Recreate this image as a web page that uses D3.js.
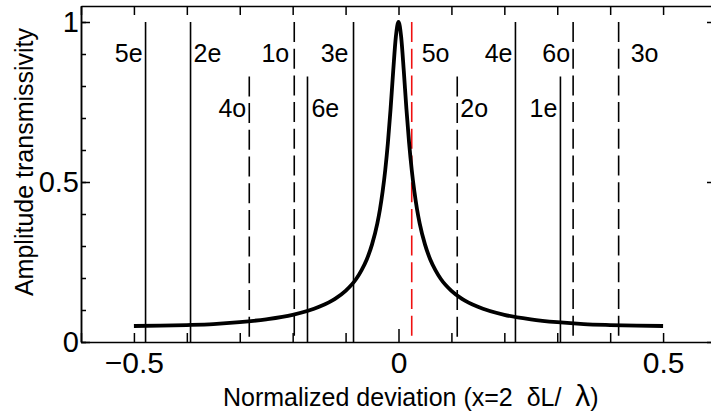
<!DOCTYPE html>
<html>
<head>
  <meta charset="utf-8">
  <script src="https://d3js.org/d3.v7.min.js"></script>
  <style>
    body { margin: 0; background: #fff; }
    text { font-family: "Liberation Sans", Arial, Helvetica, sans-serif; fill: #000; }
  </style>
</head>
<body>
<script type="text/javascript">

/*************************************************************************************************/
/* Data */

var curveX = [-0.5, -0.45, -0.4, -0.35, -0.3, -0.25, -0.2, -0.15, -0.12, -0.1, -0.08, -0.07, -0.06, -0.05, -0.04, -0.035, -0.03, -0.025, -0.02, -0.015, -0.01, -0.005,
              0,
              0.005, 0.01, 0.015, 0.02, 0.025, 0.03, 0.035, 0.04, 0.05, 0.06, 0.07, 0.08, 0.1, 0.12, 0.15, 0.2, 0.25, 0.3, 0.35, 0.4, 0.45, 0.5];
var curveT = [0.050, 0.051, 0.053, 0.056, 0.062, 0.071, 0.085, 0.110, 0.135, 0.160, 0.197, 0.224, 0.258, 0.305, 0.371, 0.415, 0.470, 0.538, 0.623, 0.728, 0.847, 0.954,
              1.000,
              0.954, 0.847, 0.728, 0.623, 0.538, 0.470, 0.415, 0.371, 0.305, 0.258, 0.224, 0.197, 0.160, 0.135, 0.110, 0.085, 0.071, 0.062, 0.056, 0.053, 0.051, 0.050];

var modeNames = ["5e", "2e", "4o", "1o", "6e", "3e", "5o", "2o", "4e", "1e", "6o", "3o"];
var modeX     = [-0.478, -0.393, -0.282, -0.197, -0.172, -0.085, 0.025, 0.111, 0.221, 0.306, 0.330, 0.416];
var modeTop   = [1, 1, 0.83, 1, 0.83, 1, 1, 0.83, 1, 0.83, 1, 1];

var xTickValues = [-0.5, 0, 0.5];
var xTickLabels = ["\u22120.5", "0", "0.5"];
var yTickValues = [0, 0.5, 1];
var yTickLabels = ["0", "0.5", "1"];

/* label layout: which side of its line each label sits, and the gap in px */
var labelSide = [-1, 1, -1, -1, 1, -1, 1, 1, -1, -1, -1, 1];
var labelGap  = [3, 3, 3, 5, 4, 5, 10, 3, 3, 3, 3, 12];

/*************************************************************************************************/

function draw() {

    var w = 711, h = 411;
    var m = {left: 81, right: 716, top: 6, bottom: 342};

    var svg = d3.select("body")
                .append("svg")
                .attr("width", w)
                .attr("height", h);

    var x = d3.scaleLinear().domain([-0.6, 0.6]).range([m.left, m.right]);
    var y = d3.scaleLinear().domain([0, 1.05]).range([m.bottom, m.top]);

/*************************************************************************************************/
/* Mode lines and labels */

    var modes = svg.append("g").attr("class", "modes");

    modes.selectAll("line")
         .data(modeNames)
         .enter()
         .append("line")
         .attr("x1", function(d, i) { return x(modeX[i]); })
         .attr("x2", function(d, i) { return x(modeX[i]); })
         .attr("y1", function(d, i) { return y(modeTop[i]); })
         .attr("y2", y(0))
         .attr("stroke", function(d) { return d == "5o" ? "#f01010" : "#000"; })
         .attr("stroke-width", 1.6)
         .attr("stroke-dasharray", function(d) { return d.slice(-1) == "o" ? "20,6.7" : null; });

    modes.selectAll("text")
         .data(modeNames)
         .enter()
         .append("text")
         .attr("x", function(d, i) { return x(modeX[i]) + labelSide[i] * labelGap[i]; })
         .attr("y", function(d, i) { return modeTop[i] == 1 ? 62 : 117; })
         .attr("text-anchor", function(d, i) { return labelSide[i] < 0 ? "end" : "start"; })
         .style("font-size", "25px")
         .text(function(d) { return d; });

/*************************************************************************************************/
/* Curve */

    var line = d3.line()
                 .x(function(d, i) { return x(curveX[i]); })
                 .y(function(d) { return y(d); })
                 .curve(d3.curveMonotoneX);

    svg.append("path")
       .datum(curveT)
       .attr("d", line)
       .attr("fill", "none")
       .attr("stroke", "#000")
       .attr("stroke-width", 3.8)
       .attr("stroke-linejoin", "round");

/*************************************************************************************************/
/* Axes: ticks on all four sides, pointing in */

    function style_axis(g) {
        g.selectAll("line, path").attr("stroke", "#000").attr("stroke-width", 1.5);
    }

    svg.append("g").attr("transform", "translate(0," + m.bottom + ")")
       .call(d3.axisTop(x).ticks(12).tickSize(9).tickSizeOuter(0).tickFormat(""))
       .call(style_axis)
       .selectAll(".tick line")
       .filter(function(d) { return Math.abs(d) < 1e-9; })
       .attr("y2", -13);

    svg.append("g").attr("transform", "translate(0," + m.top + ")")
       .call(d3.axisBottom(x).ticks(12).tickSize(9).tickSizeOuter(0).tickFormat(""))
       .call(style_axis);

    svg.append("g").attr("transform", "translate(" + m.left + ",0)")
       .call(d3.axisRight(y).ticks(10).tickSize(5).tickSizeOuter(0).tickFormat(""))
       .call(style_axis);
    svg.append("g").attr("transform", "translate(" + m.left + ",0)")
       .call(d3.axisRight(y).tickValues(yTickValues).tickSize(9).tickSizeOuter(0).tickFormat(""))
       .call(style_axis);

    svg.append("g").attr("transform", "translate(" + m.right + ",0)")
       .call(d3.axisLeft(y).ticks(10).tickSize(5).tickSizeOuter(0).tickFormat(""))
       .call(style_axis);
    svg.append("g").attr("transform", "translate(" + m.right + ",0)")
       .call(d3.axisLeft(y).tickValues(yTickValues).tickSize(9).tickSizeOuter(0).tickFormat(""))
       .call(style_axis);

    /* tick labels */
    var xLab = svg.append("g").attr("transform", "translate(0," + m.bottom + ")")
       .call(d3.axisBottom(x).tickValues(xTickValues).tickSize(0).tickPadding(10)
               .tickFormat(function(d, i) { return xTickLabels[i]; }));
    xLab.select(".domain").remove();
    xLab.selectAll("text").attr("font-family", null).style("font-size", "30px");

    var yLab = svg.append("g").attr("transform", "translate(" + m.left + ",0)")
       .call(d3.axisLeft(y).tickValues(yTickValues).tickSize(0).tickPadding(2)
               .tickFormat(function(d, i) { return yTickLabels[i]; }));
    yLab.select(".domain").remove();
    yLab.selectAll("text").attr("font-family", null).style("font-size", "29px");

/*************************************************************************************************/
/* Titles */

    svg.append("text")
       .attr("transform", "translate(33,162) rotate(-90)")
       .attr("text-anchor", "middle")
       .style("font-size", "25px")
       .text("Amplitude transmissivity");

    var xt = svg.append("text")
       .attr("x", 223)
       .attr("y", 406)
       .style("font-size", "25px");
    xt.append("tspan").text("Normalized deviation (x=2\u00a0\u00a0");
    xt.append("tspan").text("\u03b4L/\u00a0\u00a0");
    xt.append("tspan").style("font-size", "30px").text("\u03bb");
    xt.append("tspan").text(")");
}

draw();

</script>
</body>
</html>
